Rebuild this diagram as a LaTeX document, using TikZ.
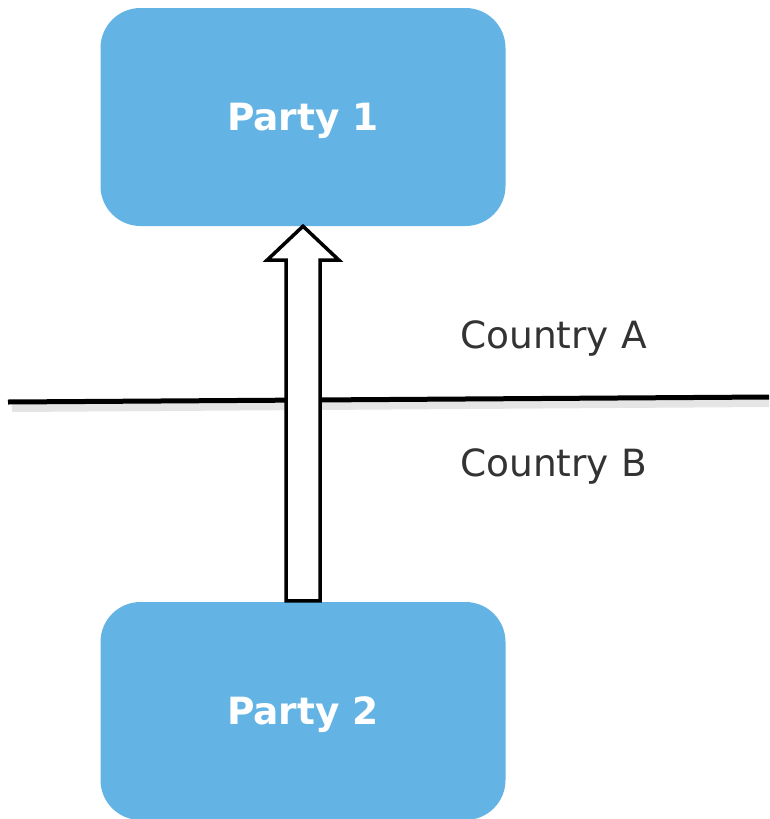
\documentclass[tikz,border=0pt]{standalone}
\usepackage{fontspec}
\setmainfont{DejaVu Sans}
\usetikzlibrary{calc}
\definecolor{partyblue}{RGB}{99,180,229}
\definecolor{labelgray}{RGB}{51,51,51}
\tikzset{
  partybox/.style={fill=partyblue, draw=none, rounded corners=40pt, minimum width=405pt, minimum height=218pt, inner sep=0pt, text=white, font=\fontsize{37.5}{44}\selectfont\bfseries},
  countrylabel/.style={anchor=base west, inner sep=0pt, text=labelgray, font=\fontsize{37.5}{45}\selectfont},
  borderline/.style={line width=5pt, black},
  bordershadow/.style={line width=8pt, black!10},
  blockarrow/.style={draw=black, fill=white, line width=3.5pt, line join=miter}
}
\newcommand{\lowertext}[1]{\raisebox{-4pt}[\height][\depth]{#1}}
\begin{document}
\begin{tikzpicture}[x=1pt,y=-1pt]
\useasboundingbox (0,0) rectangle (769,819);
\node[partybox] (p1) at (303,117) {\lowertext{Party 1}};
\node[partybox] (p2) at (303,711) {\lowertext{Party 2}};
\coordinate (lineL) at (8,402);
\coordinate (lineR) at (769,397);
\draw[bordershadow] ($(lineL)+(4,6)$) -- ($(lineR)+(0,6)$);
\draw[borderline] (lineL) -- (lineR);
\draw[blockarrow] ($(p2.north)+(-17,-1)$) -- ($(p1.south)+(-17,34)$) -- ($(p1.south)+(-36,34)$) -- ($(p1.south)+(0,0)$) -- ($(p1.south)+(36,34)$) -- ($(p1.south)+(17,34)$) -- ($(p2.north)+(17,-1)$) -- cycle;
\node[countrylabel] (ca) at (460,348) {Country A};
\node[countrylabel] (cb) at (460,476) {Country B};
\end{tikzpicture}
\end{document}
